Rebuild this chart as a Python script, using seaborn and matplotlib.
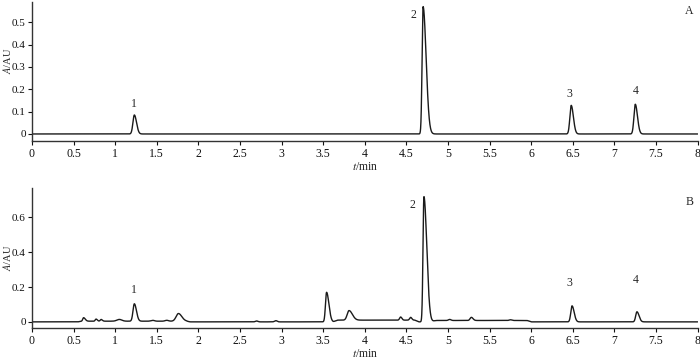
import numpy as np
import pandas as pd
import matplotlib
matplotlib.use("Agg")
import matplotlib.pyplot as plt
import seaborn as sns

# ---- data: peak retention times (min), heights (AU), left/right widths (min)
a_rt     = [1.23, 4.700, 6.48, 7.25]
a_height = [0.085, 0.570, 0.128, 0.133]
a_sl     = [0.017, 0.012, 0.016, 0.016]
a_sr     = [0.026, 0.036, 0.026, 0.026]

b_rt     = [0.62, 0.77, 0.83, 1.05, 1.23, 1.45, 1.62, 1.76, 2.70, 2.93, 3.54, 3.81,
            4.43, 4.55, 4.710, 5.02, 5.28, 5.75, 6.49, 7.27]
b_height = [0.020, 0.012, 0.010, 0.010, 0.100, 0.005, 0.005, 0.044, 0.005, 0.007, 0.170, 0.055,
            0.018, 0.016, 0.720, 0.006, 0.018, 0.004, 0.092, 0.058]
b_sl     = [0.010, 0.010, 0.010, 0.030, 0.016, 0.02, 0.02, 0.028, 0.015, 0.015, 0.013, 0.022,
            0.012, 0.012, 0.011, 0.015, 0.015, 0.015, 0.015, 0.015]
b_sr     = [0.020, 0.015, 0.015, 0.030, 0.025, 0.02, 0.02, 0.040, 0.015, 0.015, 0.028, 0.040,
            0.015, 0.015, 0.034, 0.015, 0.020, 0.015, 0.025, 0.025]
# raised baseline segments in B: (start, end, level)
b_base_start = [0.55, 3.62, 4.80]
b_base_end   = [1.90, 4.65, 6.00]
b_base_level = [0.004, 0.010, 0.008]

a_labels = ["1", "2", "3", "4"]
a_lab_x  = [1.22, 4.58, 6.46, 7.26]
a_lab_y  = [0.108, 0.505, 0.150, 0.165]
b_labels = ["1", "2", "3", "4"]
b_lab_x  = [1.22, 4.57, 6.46, 7.26]
b_lab_y  = [0.150, 0.635, 0.190, 0.205]

x_ticks = [0, 0.5, 1, 1.5, 2, 2.5, 3, 3.5, 4, 4.5, 5, 5.5, 6, 6.5, 7, 7.5, 8]
a_yticks = [0, 0.1, 0.2, 0.3, 0.4, 0.5]
b_yticks = [0, 0.2, 0.4, 0.6]


def trace(t, rts, hs, sls, srs):
    y = np.zeros_like(t)
    for rt, h, sl, sr in zip(rts, hs, sls, srs):
        s = np.where(t < rt, sl, sr)
        y += h * np.exp(-0.5 * ((t - rt) / s) ** 2)
    return y


def plateau(t, starts, ends, levels):
    y = np.zeros_like(t)
    for s0, e0, lv in zip(starts, ends, levels):
        y += lv * np.clip((t - s0) / 0.05, 0, 1) * np.clip((e0 - t) / 0.05, 0, 1)
    return y


t = np.linspace(0, 8, 8001)
ya = trace(t, a_rt, a_height, a_sl, a_sr)
yb = trace(t, b_rt, b_height, b_sl, b_sr) + plateau(t, b_base_start, b_base_end, b_base_level)

dfa = pd.DataFrame({"t": t, "A": ya})
dfb = pd.DataFrame({"t": t, "A": yb})

sns.set_style("ticks")
plt.rcParams["font.family"] = ["Liberation Serif", "DejaVu Serif"]
plt.rcParams["mathtext.fontset"] = "stix"

fig = plt.figure(figsize=(7, 3.6), dpi=100)
axA = fig.add_axes([0.0457, 0.608, 0.951, 0.386])
axB = fig.add_axes([0.0457, 0.089, 0.951, 0.389])

line_kw = dict(color="#1a1a1a", linewidth=1.0)
sns.lineplot(data=dfa, x="t", y="A", ax=axA, estimator=None, **line_kw)
sns.lineplot(data=dfb, x="t", y="A", ax=axB, estimator=None, **line_kw)


def style(ax, yticks, ylim, labels, lx, ly, tag, tag_y, ylab_y):
    ax.set_xlim(0, 8)
    ax.set_ylim(*ylim)
    ax.set_xticks(x_ticks)
    ax.set_xticklabels([f"{v:g}" for v in x_ticks], fontsize=8.5)
    ax.set_yticks(yticks)
    ax.set_yticklabels([f"{v:g}" for v in yticks], fontsize=8)
    ax.set_ylabel("$A$/AU", fontsize=7.5)
    ax.yaxis.set_label_coords(-0.029, ylab_y)
    ax.set_xlabel("$t$/min", fontsize=8.5, labelpad=1)
    sns.despine(ax=ax)
    for sp in ("left", "bottom"):
        ax.spines[sp].set_linewidth(1.0)
        ax.spines[sp].set_color("#333333")
    ax.tick_params(axis="both", length=3, width=0.8, pad=2, colors="#111111")
    ax.tick_params(axis="y", pad=1.5)
    for lab, x, y in zip(labels, lx, ly):
        ax.text(x, y, lab, fontsize=8.5, ha="center", va="bottom")
    ax.text(7.9, tag_y, tag, fontsize=8.5, ha="center", va="center")


style(axA, a_yticks, (-0.032, 0.59), a_labels, a_lab_x, a_lab_y, "A", 0.55, 0.58)
style(axB, b_yticks, (-0.035, 0.77), b_labels, b_lab_x, b_lab_y, "B", 0.69, 0.5)

fig.savefig("out.png", dpi=100)
